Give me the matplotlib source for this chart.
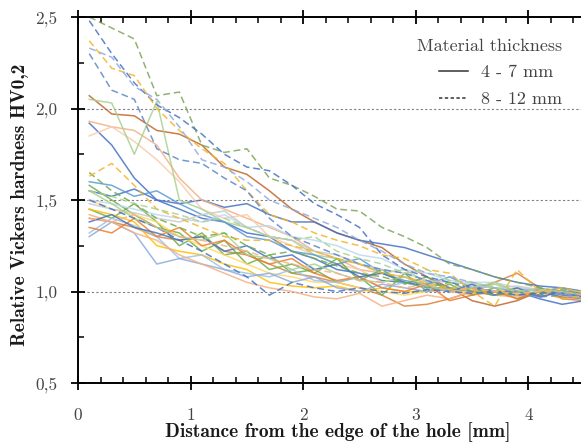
import matplotlib
matplotlib.use("Agg")
import matplotlib.pyplot as plt
from matplotlib.lines import Line2D
from matplotlib.ticker import MultipleLocator, FixedLocator, FuncFormatter

plt.rcParams['font.family'] = ['cmr10', 'DejaVu Serif']
plt.rcParams['axes.formatter.use_mathtext'] = True

# Measurement positions (mm from hole edge)
distance = [0.1, 0.3, 0.5, 0.7, 0.9, 1.1, 1.3, 1.5, 1.7, 1.9, 2.1, 2.3,
            2.5, 2.7, 2.9, 3.1, 3.3, 3.5, 3.7, 3.9, 4.1, 4.3, 4.5]

# Thin sheets 4 - 7 mm (solid lines)
thin_colors = ['#C0652B', '#D9823B', '#4472C4', '#4472C4', '#F4B183',
               '#F8CBAD', '#A9D18E', '#5B9BD5', '#70AD47', '#70AD47',
               '#FFC000', '#FFD966', '#9DC3E6', '#8FAADC', '#F4B183',
               '#ED7D31', '#BDD7EE', '#C9C9C9', '#4472C4', '#A9D18E']
thin_values = [
    [2.07, 1.97, 1.96, 1.88, 1.86, 1.80, 1.68, 1.64, 1.55, 1.45, 1.38, 1.32, 1.28, 1.24, 1.15, 1.08, 1.02, 0.95, 0.92, 0.95, 1.00, 0.97, 0.96],
    [1.40, 1.38, 1.35, 1.30, 1.28, 1.30, 1.22, 1.20, 1.15, 1.10, 1.08, 1.05, 1.02, 0.98, 0.92, 0.93, 0.96, 1.00, 1.05, 1.10, 1.02, 0.96, 0.95],
    [1.55, 1.52, 1.56, 1.50, 1.48, 1.50, 1.46, 1.48, 1.42, 1.38, 1.38, 1.32, 1.28, 1.26, 1.24, 1.20, 1.16, 1.12, 1.08, 1.05, 1.03, 1.02, 1.00],
    [1.92, 1.80, 1.62, 1.50, 1.45, 1.40, 1.38, 1.32, 1.30, 1.22, 1.18, 1.12, 1.10, 1.06, 1.05, 1.02, 1.00, 1.02, 0.98, 1.00, 0.96, 0.93, 0.95],
    [1.93, 1.90, 1.88, 1.80, 1.62, 1.50, 1.45, 1.40, 1.35, 1.30, 1.22, 1.18, 1.12, 1.10, 1.08, 1.05, 1.02, 1.00, 1.00, 0.98, 1.00, 1.02, 0.98],
    [1.85, 1.90, 1.82, 1.72, 1.60, 1.45, 1.40, 1.42, 1.30, 1.25, 1.20, 1.15, 1.12, 1.05, 1.08, 1.02, 1.00, 0.98, 1.02, 1.00, 0.97, 1.00, 0.98],
    [2.05, 2.03, 1.75, 2.04, 1.50, 1.45, 1.38, 1.35, 1.30, 1.28, 1.20, 1.18, 1.15, 1.10, 1.12, 1.05, 1.02, 1.00, 1.04, 1.00, 0.98, 1.00, 0.99],
    [1.60, 1.58, 1.52, 1.55, 1.48, 1.42, 1.38, 1.30, 1.28, 1.22, 1.20, 1.15, 1.18, 1.10, 1.06, 1.04, 1.08, 1.02, 1.00, 0.98, 1.00, 1.02, 0.98],
    [1.58, 1.50, 1.42, 1.35, 1.32, 1.22, 1.28, 1.15, 1.20, 1.10, 1.12, 1.05, 1.08, 0.98, 1.10, 1.00, 1.04, 0.98, 1.02, 0.96, 1.00, 0.98, 0.97],
    [1.45, 1.40, 1.48, 1.38, 1.25, 1.32, 1.20, 1.22, 1.12, 1.15, 1.10, 1.18, 1.06, 1.12, 1.04, 1.08, 1.00, 1.02, 0.98, 1.00, 1.02, 0.99, 0.98],
    [1.45, 1.42, 1.38, 1.25, 1.22, 1.20, 1.15, 1.12, 1.05, 1.03, 1.02, 1.03, 1.00, 1.02, 1.00, 1.00, 1.01, 0.99, 1.00, 1.02, 1.00, 0.99, 1.00],
    [1.50, 1.45, 1.42, 1.38, 1.30, 1.25, 1.20, 1.15, 1.10, 1.08, 1.05, 1.05, 1.02, 1.00, 0.98, 1.00, 1.02, 0.99, 1.00, 1.01, 0.98, 1.00, 1.00],
    [1.32, 1.40, 1.36, 1.30, 1.18, 1.20, 1.12, 1.10, 1.08, 1.12, 1.06, 1.05, 1.08, 1.02, 1.05, 1.02, 1.00, 1.03, 1.02, 1.00, 1.01, 0.99, 0.97],
    [1.30, 1.38, 1.32, 1.15, 1.18, 1.15, 1.12, 1.08, 1.10, 1.05, 1.08, 1.02, 1.00, 1.04, 1.02, 1.00, 1.02, 1.00, 0.98, 1.02, 1.00, 0.98, 0.96],
    [1.42, 1.38, 1.32, 1.28, 1.20, 1.15, 1.10, 1.05, 1.02, 1.00, 0.97, 0.96, 0.99, 0.92, 0.95, 0.98, 0.96, 1.00, 0.98, 0.97, 1.00, 0.99, 0.98],
    [1.35, 1.32, 1.40, 1.30, 1.35, 1.25, 1.28, 1.20, 1.15, 1.18, 1.10, 1.06, 1.08, 1.02, 1.00, 1.04, 0.95, 0.98, 1.00, 0.96, 1.00, 1.00, 0.99],
    [1.50, 1.48, 1.45, 1.42, 1.40, 1.38, 1.42, 1.35, 1.36, 1.30, 1.28, 1.25, 1.20, 1.18, 1.12, 1.10, 1.06, 1.05, 1.05, 1.02, 1.01, 1.00, 0.99],
    [1.48, 1.45, 1.43, 1.40, 1.38, 1.42, 1.44, 1.35, 1.30, 1.28, 1.22, 1.20, 1.15, 1.12, 1.10, 1.06, 1.05, 1.04, 1.02, 1.03, 1.01, 1.00, 0.99],
    [1.38, 1.42, 1.35, 1.32, 1.28, 1.30, 1.22, 1.25, 1.18, 1.20, 1.12, 1.15, 1.08, 1.10, 1.05, 1.03, 1.00, 1.04, 0.98, 1.02, 0.97, 1.00, 0.99],
    [1.55, 1.48, 1.40, 1.35, 1.30, 1.28, 1.32, 1.20, 1.18, 1.12, 1.15, 1.10, 1.06, 1.05, 1.08, 1.03, 1.00, 1.02, 1.05, 1.00, 1.01, 1.00, 0.98],
]

# Thick sheets 8 - 12 mm (dashed lines)
thick_colors = ['#7FA55A', '#4472C4', '#F2B42A', '#8FAADC', '#5B86C8',
                '#70AD47', '#F2B42A', '#4472C4', '#F4B183', '#A9D18E']
thick_values = [
    [2.50, 2.44, 2.38, 2.07, 2.09, 1.80, 1.76, 1.78, 1.62, 1.58, 1.52, 1.45, 1.44, 1.35, 1.30, 1.24, 1.15, 1.12, 1.08, 1.05, 1.02, 1.00, 0.98],
    [2.48, 2.30, 2.14, 2.02, 1.95, 1.86, 1.75, 1.68, 1.66, 1.58, 1.48, 1.42, 1.35, 1.20, 1.12, 1.08, 1.05, 1.02, 1.00, 1.00, 0.98, 0.99, 0.97],
    [2.37, 2.22, 2.18, 2.00, 1.88, 1.78, 1.70, 1.55, 1.42, 1.38, 1.32, 1.28, 1.25, 1.20, 1.18, 1.12, 1.10, 1.00, 0.92, 1.12, 1.00, 0.96, 0.98],
    [2.33, 2.28, 2.12, 2.05, 1.90, 1.72, 1.68, 1.60, 1.50, 1.45, 1.40, 1.35, 1.28, 1.22, 1.15, 1.10, 1.08, 1.05, 1.02, 1.00, 1.01, 0.99, 0.98],
    [2.30, 2.10, 2.05, 1.78, 1.72, 1.70, 1.62, 1.55, 1.40, 1.30, 1.25, 1.20, 1.15, 1.12, 1.10, 1.06, 1.02, 1.00, 0.98, 1.00, 0.97, 0.98, 0.98],
    [1.65, 1.55, 1.48, 1.40, 1.35, 1.30, 1.32, 1.25, 1.20, 1.22, 1.18, 1.14, 1.10, 1.08, 1.05, 1.02, 1.05, 1.00, 0.98, 1.00, 0.99, 1.01, 0.98],
    [1.63, 1.70, 1.58, 1.45, 1.40, 1.35, 1.30, 1.28, 1.28, 1.25, 1.22, 1.18, 1.15, 1.10, 1.08, 1.04, 1.02, 1.01, 1.00, 0.98, 1.00, 1.02, 0.99],
    [1.50, 1.45, 1.40, 1.35, 1.28, 1.22, 1.15, 1.08, 0.98, 1.05, 1.02, 1.00, 1.02, 1.00, 0.99, 1.01, 1.00, 0.99, 1.00, 0.98, 0.99, 1.00, 0.98],
    [1.40, 1.38, 1.42, 1.35, 1.30, 1.28, 1.25, 1.22, 1.18, 1.15, 1.12, 1.10, 1.06, 1.05, 1.02, 1.04, 1.00, 1.02, 1.00, 0.99, 1.00, 1.00, 0.98],
    [1.55, 1.52, 1.48, 1.45, 1.42, 1.38, 1.40, 1.35, 1.30, 1.28, 1.30, 1.22, 1.18, 1.15, 1.10, 1.12, 1.06, 1.05, 1.02, 1.00, 1.01, 1.00, 0.98],
]

x_ticks = [0, 1, 2, 3, 4]
y_ticks = [0.5, 1.0, 1.5, 2.0, 2.5]
legend_title = "Material thickness"
legend_labels = ["4 - 7 mm", "8 - 12 mm"]

fig = plt.figure(figsize=(5.81, 4.43), dpi=100)
ax = fig.add_axes([78 / 581, 60 / 443, 563 / 581, 366 / 443])

for yv in [1.0, 1.5, 2.0]:
    ax.axhline(yv, color='#808080', lw=0.8, ls=(0, (2, 2)), zorder=1)

for vals, c in zip(thin_values, thin_colors):
    ax.plot(distance, vals, color=c, lw=1.1, alpha=0.85, zorder=2)
for vals, c in zip(thick_values, thick_colors):
    ax.plot(distance, vals, color=c, lw=1.1, alpha=0.85, ls=(0, (4.5, 2.5)), zorder=2)

ax.set_xlim(0, 5)
ax.set_ylim(0.5, 2.5)
ax.xaxis.set_major_locator(FixedLocator(x_ticks))
ax.yaxis.set_major_locator(FixedLocator(y_ticks))
ax.xaxis.set_minor_locator(MultipleLocator(0.2))
ax.yaxis.set_minor_locator(MultipleLocator(0.25))
ax.yaxis.set_major_formatter(FuncFormatter(lambda v, p: f"{v:.1f}".replace('.', ',')))
ax.xaxis.set_major_formatter(FuncFormatter(lambda v, p: f"{v:.0f}"))

for s in ['left', 'bottom', 'top']:
    ax.spines[s].set_linewidth(1.4)
ax.spines['right'].set_visible(False)
ax.tick_params(axis='both', which='major', direction='inout', length=10, width=1.3,
               labelsize=12.5, labelcolor='#444444', color='black')
ax.tick_params(axis='both', which='minor', direction='in', length=4.5, width=1.1)
ax.tick_params(axis='x', which='both', top=True)
ax.tick_params(axis='x', which='major', pad=13)
ax.tick_params(axis='y', which='major', pad=10)

ax.set_xlabel("Distance from the edge of the hole [mm]", fontfamily='cmb10',
              fontsize=14, color='#1a1a1a', va='center')
ax.xaxis.set_label_coords((337.5 - 78) / 563, (383 - 432) / 366)
ax.set_ylabel("Relative Vickers hardness HV0,2", fontfamily='cmb10',
              fontsize=14, color='#1a1a1a', va='center')
ax.yaxis.set_label_coords((20 - 78) / 563, (383 - 205) / 366)

handles = [Line2D([0], [0], color='#333333', lw=1.1),
           Line2D([0], [0], color='#333333', lw=1.1, ls=(0, (2.2, 1.6)))]
leg = fig.legend(handles, legend_labels, title=legend_title, loc='upper right',
                 bbox_to_anchor=(569 / 581, 1 - 31 / 443), frameon=False, fontsize=13,
                 title_fontsize=13, handlelength=1.6, handletextpad=0.7,
                 labelspacing=0.62, borderaxespad=0, alignment='right')
for t in leg.get_texts():
    t.set_color('#444444')
leg.get_title().set_color('#444444')

fig.savefig("out.png", dpi=100)
